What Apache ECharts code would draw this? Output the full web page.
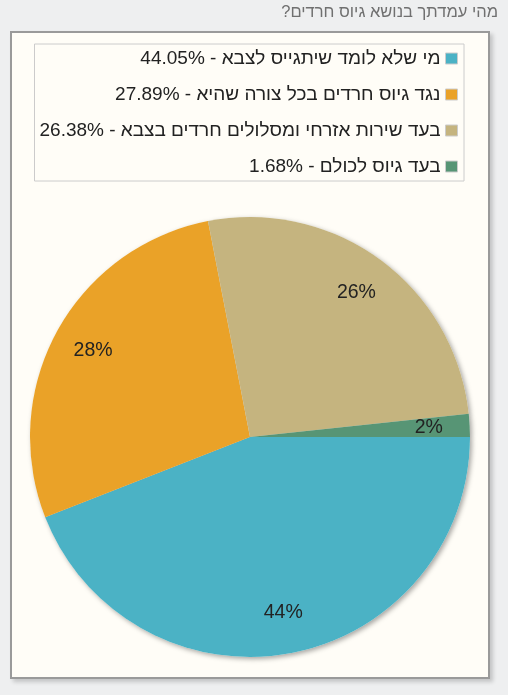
<!DOCTYPE html>
<html>
<head>
<meta charset="utf-8">
<script src="https://cdn.jsdelivr.net/npm/echarts@6/dist/echarts.min.js"></script>
<style>
    html, body { margin: 0; padding: 0; background: #eeeff0; }
    #panel {
        position: absolute; left: 10px; top: 31px; width: 476px; height: 644px;
        background: #fffdf7; border: 2px solid #9a9a9a;
        box-shadow: 3px 3px 4px rgba(0, 0, 0, 0.18);
    }
    #main { position: absolute; left: 0; top: 0; width: 508px; height: 695px; }
</style>
</head>
<body>
<div id="panel"></div>
<div id="main" dir="rtl"></div>
<script>
var chartTitle = 'מהי עמדתך בנושא גיוס חרדים?';
var categories = [
    'מי שלא לומד שיתגייס לצבא',
    'נגד גיוס חרדים בכל צורה שהיא',
    'בעד שירות אזרחי ומסלולים חרדים בצבא',
    'בעד גיוס לכולם'
];
var values = [44.05, 27.89, 26.38, 1.68];
var colors = ['#4bb2c5', '#eaa228', '#c5b47f', '#579575'];

var pieChart;
(function () {
    pieChart = echarts.init(document.getElementById('main'), null, {renderer: 'canvas'});

    var named = categories.map(function (c, i) {
        return {name: c, value: values[i]};
    });
    var plain = values.map(function (v) {
        return {value: v};
    });

    var option = {
        animation: false,
        color: colors,
        textStyle: {fontFamily: 'Liberation Sans, Arial, sans-serif'},
        title: {
            text: chartTitle,
            right: 10,
            top: 4,
            padding: 0,
            textStyle: {fontSize: 16.5, fontWeight: 'normal', color: '#707070'}
        },
        legend: {
            orient: 'vertical',
            right: 44,
            top: 44,
            padding: [5, 6, 5, 5],
            itemGap: 17,
            itemWidth: 12,
            itemHeight: 11,
            icon: 'rect',
            align: 'right',
            backgroundColor: '#fffdf7',
            borderColor: '#cccccc',
            borderWidth: 1,
            selectedMode: false,
            itemStyle: {borderColor: '#cccccc', borderWidth: 1},
            textStyle: {fontSize: 19, color: '#222222'},
            data: categories,
            formatter: function (name) {
                var i = categories.indexOf(name);
                return name + ' - ' + values[i].toFixed(2) + '%';
            }
        },
        series: [
            {
                // slices
                type: 'pie',
                z: 3,
                center: [250, 437],
                radius: [0, 220],
                startAngle: 0,
                clockwise: true,
                silent: true,
                label: {show: false},
                labelLine: {show: false},
                itemStyle: {borderWidth: 0},
                data: named
            },
            {
                // shadow disc under the slices
                type: 'pie',
                z: 1,
                center: [250, 437],
                radius: [0, 220],
                startAngle: 0,
                silent: true,
                label: {show: false},
                labelLine: {show: false},
                itemStyle: {
                    color: '#fffdf7',
                    borderWidth: 0,
                    shadowBlur: 5,
                    shadowOffsetX: 2,
                    shadowOffsetY: 2,
                    shadowColor: 'rgba(0,0,0,0.35)'
                },
                data: plain
            },
            {
                // percent labels at ~0.8 of the radius
                type: 'pie',
                z: 4,
                center: [250, 437],
                radius: [132, 220],
                startAngle: 0,
                silent: true,
                avoidLabelOverlap: false,
                itemStyle: {color: 'rgba(0,0,0,0)', borderWidth: 0},
                labelLine: {show: false},
                label: {
                    show: true,
                    position: 'inside',
                    fontSize: 19.5,
                    color: '#222222',
                    formatter: function (p) {
                        return Math.round(p.percent) + '%';
                    }
                },
                data: plain
            }
        ]
    };
    pieChart.setOption(option);
})();
</script>
</body>
</html>
